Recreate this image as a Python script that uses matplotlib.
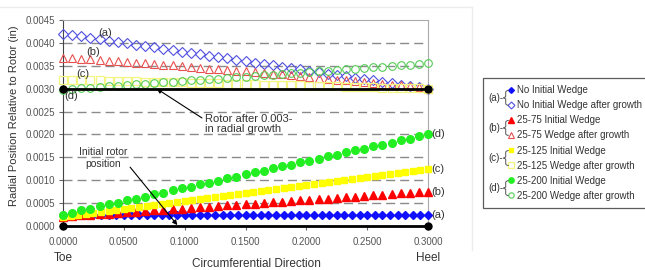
import numpy as np
import matplotlib
matplotlib.use("Agg")
import matplotlib.pyplot as plt
from matplotlib.lines import Line2D
from matplotlib.path import Path
from matplotlib.patches import PathPatch

plt.rcParams['font.family'] = ['Liberation Sans', 'DejaVu Sans']

# ---------------- data ----------------
x41 = np.round(np.arange(41) * 0.0075, 5)
x49 = np.round(np.arange(49) * 0.00625, 5)

no_wedge = [0.00025] * 49
no_wedge_after = [0.00420, 0.00417, 0.00414, 0.00411, 0.00408, 0.00405, 0.00402, 0.00399, 0.00396, 0.00393,
                  0.00390, 0.00387, 0.00384, 0.00381, 0.00378, 0.00375, 0.00372, 0.00369, 0.00366, 0.00363,
                  0.00360, 0.00357, 0.00354, 0.00351, 0.00348, 0.00345, 0.00342, 0.00339, 0.00336, 0.00333,
                  0.00330, 0.00327, 0.00324, 0.00321, 0.00318, 0.00315, 0.00312, 0.00309, 0.00306, 0.00303,
                  0.00300]
w75 = [0.00020, 0.00021, 0.00023, 0.00024, 0.00026, 0.00027, 0.00028, 0.00030, 0.00031, 0.00032,
       0.00034, 0.00035, 0.00037, 0.00038, 0.00039, 0.00041, 0.00042, 0.00043, 0.00045, 0.00046,
       0.00048, 0.00049, 0.00050, 0.00052, 0.00053, 0.00054, 0.00056, 0.00057, 0.00059, 0.00060,
       0.00061, 0.00063, 0.00064, 0.00065, 0.00067, 0.00068, 0.00070, 0.00071, 0.00072, 0.00074,
       0.00075]
w75_after = [0.00368, 0.00367, 0.00365, 0.00364, 0.00362, 0.00361, 0.00360, 0.00358, 0.00357, 0.00355,
             0.00354, 0.00352, 0.00351, 0.00349, 0.00347, 0.00346, 0.00344, 0.00343, 0.00341, 0.00339,
             0.00338, 0.00336, 0.00334, 0.00332, 0.00331, 0.00329, 0.00327, 0.00325, 0.00324, 0.00322,
             0.00320, 0.00318, 0.00316, 0.00314, 0.00312, 0.00310, 0.00308, 0.00307, 0.00305, 0.00303,
             0.00300]
w125 = [0.00020, 0.00022, 0.00024, 0.00027, 0.00029, 0.00031, 0.00033, 0.00035, 0.00038, 0.00040,
        0.00042, 0.00044, 0.00046, 0.00048, 0.00051, 0.00053, 0.00055, 0.00057, 0.00059, 0.00062,
        0.00064, 0.00066, 0.00068, 0.00070, 0.00073, 0.00075, 0.00077, 0.00079, 0.00081, 0.00083,
        0.00086, 0.00088, 0.00090, 0.00092, 0.00094, 0.00097, 0.00099, 0.00101, 0.00103, 0.00105,
        0.00108, 0.00110, 0.00112, 0.00114, 0.00116, 0.00118, 0.00121, 0.00123, 0.00125]
w125_after = [0.003200, 0.003195, 0.003190, 0.003185, 0.003180, 0.003175, 0.003170, 0.003165, 0.003160, 0.003155,
              0.003150, 0.003145, 0.003140, 0.003135, 0.003130, 0.003125, 0.003120, 0.003115, 0.003110, 0.003105,
              0.003100, 0.003095, 0.003090, 0.003085, 0.003080, 0.003075, 0.003070, 0.003065, 0.003060, 0.003055,
              0.003050, 0.003045, 0.003040, 0.003035, 0.003030, 0.003025, 0.003020, 0.003015, 0.003010, 0.003005,
              0.003000]
w200 = [0.00025, 0.00029, 0.00034, 0.00038, 0.00043, 0.00047, 0.00051, 0.00056, 0.00060, 0.00064,
        0.00069, 0.00073, 0.00078, 0.00082, 0.00086, 0.00091, 0.00095, 0.00099, 0.00104, 0.00108,
        0.00113, 0.00117, 0.00121, 0.00126, 0.00130, 0.00134, 0.00139, 0.00143, 0.00147, 0.00152,
        0.00156, 0.00161, 0.00165, 0.00169, 0.00174, 0.00178, 0.00182, 0.00187, 0.00191, 0.00196,
        0.00200]
w200_after = [0.002980, 0.002994, 0.003009, 0.003023, 0.003037, 0.003051, 0.003066, 0.003080, 0.003094, 0.003108,
              0.003123, 0.003137, 0.003151, 0.003165, 0.003180, 0.003194, 0.003208, 0.003222, 0.003237, 0.003251,
              0.003265, 0.003279, 0.003294, 0.003308, 0.003322, 0.003336, 0.003351, 0.003365, 0.003379, 0.003393,
              0.003408, 0.003422, 0.003436, 0.003450, 0.003465, 0.003479, 0.003493, 0.003507, 0.003522, 0.003536,
              0.003550]

rotor_x = [0.0, 0.3]
rotor_initial = [0.0, 0.0]
rotor_grown = [0.003, 0.003]

labels = ["No Initial Wedge", "No Initial Wedge after growth",
          "25-75 Initial Wedge", "25-75 Wedge after growth",
          "25-125 Initial Wedge", "25-125 Wedge after growth",
          "25-200 Initial Wedge", "25-200 Wedge after growth"]
group_tags = ["(a)", "(b)", "(c)", "(d)"]
x_ticks = [0.0, 0.05, 0.10, 0.15, 0.20, 0.25, 0.30]
y_ticks = [0.0, 0.0005, 0.0010, 0.0015, 0.0020, 0.0025, 0.0030, 0.0035, 0.0040, 0.0045]

# ---------------- figure ----------------
W, H = 645, 270
fig = plt.figure(figsize=(W / 100, H / 100), dpi=100)
fig.patch.set_facecolor('white')

def px(x, y):
    return (x / W, 1 - y / H)

ax = fig.add_axes([63 / W, 1 - 226 / H, (428 - 63) / W, (226 - 20) / H])
ax.set_xlim(0, 0.3)
ax.set_ylim(0, 0.0045)

for v in y_ticks[1:-1]:
    ax.axhline(v, color='#8a8a8a', lw=1.0, dashes=(6.5, 3.6), zorder=1)

h = []
h += ax.plot(x49, no_wedge, ls='none', marker='D', ms=4.2, color='#1010ff', mec='#1010ff', zorder=3, clip_on=False)
h += ax.plot(x41, no_wedge_after, ls='none', marker='D', ms=5, mfc='none', mec='#5050e0', mew=0.8, zorder=3, clip_on=False)
h += ax.plot(x41, w75, ls='none', marker='^', ms=5.5, color='#ff0000', zorder=3, clip_on=False)
h += ax.plot(x41, w75_after, ls='none', marker='^', ms=6, mfc='none', mec='#e85050', mew=0.8, zorder=3, clip_on=False)
h += ax.plot(x49, w125, ls='none', marker='s', ms=5, color='#ffff00', zorder=3, clip_on=False)
h += ax.plot(x41, w125_after, ls='none', marker='s', ms=5.5, mfc='none', mec='#f4f480', mew=0.9, zorder=3, clip_on=False)
h += ax.plot(x41, w200, ls='none', marker='o', ms=5.5, color='#22ee22', zorder=3, clip_on=False)
h += ax.plot(x41, w200_after, ls='none', marker='o', ms=5.5, mfc='none', mec='#55cc55', mew=0.8, zorder=3, clip_on=False)

ax.plot(rotor_x, rotor_initial, color='black', lw=2, marker='o', ms=5, zorder=5, clip_on=False)
ax.plot(rotor_x, rotor_grown, color='black', lw=2, marker='o', ms=5, zorder=5, clip_on=False)

# spines / ticks
for s in ['top', 'right']:
    ax.spines[s].set_color('#aaaaaa')
ax.spines['left'].set_color('#444444')
ax.spines['bottom'].set_color('black')
ax.set_xticks(x_ticks)
ax.set_yticks(y_ticks)
ax.set_xticklabels([f"{v:.4f}" for v in x_ticks])
ax.set_yticklabels([f"{v:.4f}" for v in y_ticks])
ax.tick_params(axis='both', direction='out', length=3, color='#666666', labelsize=7, labelcolor='#555555')
ax.tick_params(axis='x', pad=5)
ax.tick_params(axis='y', pad=3)

ax.set_ylabel("Radial Position Relative to Rotor (in)", fontsize=8, color='#333333')
ax.yaxis.set_label_coords(-0.12, 0.535)
ax.set_xlabel("Circumferential Direction", fontsize=8.5, color='#333333')
ax.xaxis.set_label_coords(0.53, -0.155)
ax.text(0.0, -0.155, "Toe", transform=ax.transAxes, ha='center', va='center', fontsize=8.5, color='#333333')
ax.text(1.0, -0.155, "Heel", transform=ax.transAxes, ha='center', va='center', fontsize=8.5, color='#333333')

# group tags near after-growth series
tag_pos = [(0.035, 0.00421), (0.025, 0.00380), (0.016, 0.00331), (0.007, 0.00283)]
for t, (xx, yy) in zip(group_tags, tag_pos):
    ax.text(xx, yy, t, fontsize=8, color='#333333', ha='center', va='center', zorder=6)
right_tags = [(0.00025, "(a)"), (0.00075, "(b)"), (0.00125, "(c)"), (0.00200, "(d)")]
for yy, t in right_tags:
    ax.annotate(t, (0.3, yy), xytext=(2, 0), textcoords='offset points', fontsize=8,
                color='#333333', ha='left', va='center', annotation_clip=False)

ax.annotate("Rotor after 0.003-\nin radial growth", xy=(0.077, 0.00300), xytext=(0.1165, 0.00223),
            fontsize=8, color='#333333', ha='left', va='center', linespacing=1.1,
            arrowprops=dict(arrowstyle='-|>', color='black', lw=0.8, mutation_scale=7, shrinkA=0, shrinkB=0,
                            relpos=(0.0, 0.7)),
            zorder=7)
ax.annotate("Initial rotor\nposition", xy=(0.094, 0.00002), xytext=(0.033, 0.00148),
            fontsize=7.5, color='#333333', ha='center', va='center', linespacing=1.25,
            arrowprops=dict(arrowstyle='-|>', color='black', lw=0.8, mutation_scale=7, shrinkA=0, shrinkB=0,
                            relpos=(1.0, 0.25)),
            zorder=7)

# faint page border lines
fig.add_artist(Line2D([0, 472 / W], [1 - 7 / H, 1 - 7 / H], color='#ececec', lw=1, transform=fig.transFigure))
fig.add_artist(Line2D([472 / W, 472 / W], [1 - 7 / H, 1 - 250 / H], color='#ececec', lw=1, transform=fig.transFigure))

# legend
leg = fig.legend(h, labels, loc='upper left', bbox_to_anchor=px(483, 78), bbox_transform=fig.transFigure,
                 fontsize=7, frameon=True, fancybox=False, edgecolor='#333333', borderaxespad=0,
                 handlelength=4.2, handletextpad=-1.5, labelspacing=0.52, borderpad=0.75,
                 markerscale=0.7, numpoints=1)
leg.get_frame().set_linewidth(0.9)
for t in leg.get_texts():
    t.set_color('#333333')

fig.canvas.draw()
renderer = fig.canvas.get_renderer()
rows = []
for t in leg.get_texts():
    bb = t.get_window_extent(renderer)
    rows.append((bb.y0 + bb.y1) / 2)
hx = []
for hl in leg.legend_handles:
    bb = hl.get_window_extent(renderer)
    hx.append((bb.x0 + bb.x1) / 2)
mx = hx[0]
for g in range(4):
    y1, y2 = rows[2 * g], rows[2 * g + 1]
    ym = (y1 + y2) / 2
    bx = mx - 5
    verts = [(mx - 2, y1), (bx, y1), (bx, y1 - 2),
             (bx, ym + 1), (bx - 2.5, ym), (bx, ym - 1),
             (bx, y2 + 2), (bx, y2), (mx - 2, y2)]
    codes = [Path.MOVETO, Path.CURVE3, Path.CURVE3,
             Path.LINETO, Path.LINETO, Path.LINETO,
             Path.LINETO, Path.CURVE3, Path.CURVE3]
    verts_f = [(vx / W, vy / H) for vx, vy in verts]
    fig.add_artist(PathPatch(Path(verts_f, codes), fc='none', ec='#555555', lw=0.7,
                             transform=fig.transFigure, zorder=10))
    fig.text((bx - 2.5) / W, ym / H, group_tags[g] + "-", fontsize=7, color='#333333',
             ha='right', va='center', zorder=10)

fig.savefig("out.png", dpi=100)
